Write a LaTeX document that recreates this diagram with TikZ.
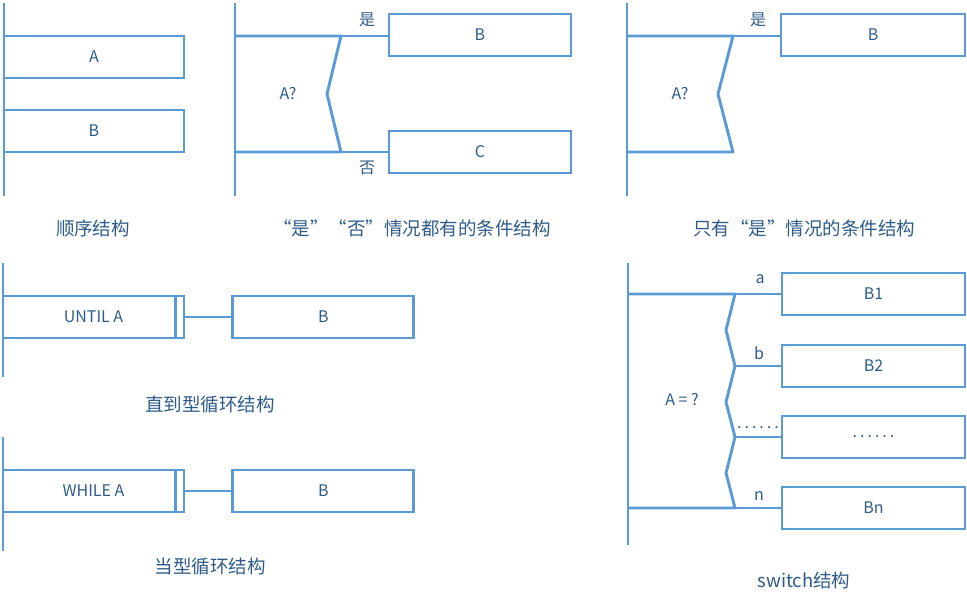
\documentclass[tikz,border=0pt]{standalone}
\usepackage{fontspec}
\setmainfont{Noto Sans CJK SC}
\usetikzlibrary{positioning}
\definecolor{nsline}{HTML}{5B9BD5}
\definecolor{nstext}{HTML}{2E5C8A}

\begin{document}
\begin{tikzpicture}[
  x=1pt, y=-1pt,
  ns/.style={draw=nsline, line width=2.9pt, line join=round},
  box/.style={rectangle, draw=nsline, line width=2.9pt, minimum width=181pt, minimum height=42pt, inner sep=0pt, text=nstext, font=\fontsize{16}{18}\selectfont},
  lbl/.style={text=nstext, font=\fontsize{16}{18}\selectfont, inner sep=0pt},
  caption/.style={text=nstext, font=\fontsize{18.5}{21}\selectfont, inner sep=0pt}
]
\useasboundingbox (0,0) rectangle (967,602);
% sequence
\draw[ns] (4,3) -- (4,196);
\node[box, minimum width=180pt] (seqa) at (94,57) {A};
\node[box, minimum width=180pt] (seqb) at (94,131) {B};
\node[caption] (capseq) at (93,228) {顺序结构};
% if-else
\coordinate (ift) at (341,36);
\coordinate (ifb) at (341,152);
\draw[ns] (235,3) -- (235,196);
\node[box, minimum width=182pt] (ifb2) at (480,35) {B};
\node[box, minimum width=182pt] (ifc) at (480,152) {C};
\draw[ns] (235,36) -- (ift) -- (327,94) -- (ifb) -- (235,152);
\draw[ns] (ift) -- (ift -| ifb2.west);
\draw[ns] (ifb) -- (ifc);
\node[lbl] (ifyes) at (367,20) {是};
\node[lbl] (ifno) at (367,168) {否};
\node[lbl] (ifq) at (288,94) {A?};
\node[caption] (capif) at (412,228) {“是”“否”情况都有的条件结构};
% if only
\coordinate (onlyt) at (733,36);
\draw[ns] (627,3) -- (627,196);
\node[box, minimum width=184pt] (onlyb) at (873,35) {B};
\draw[ns] (627,36) -- (onlyt) -- (718,94) -- (733,152) -- (627,152);
\draw[ns] (onlyt) -- (onlyt -| onlyb.west);
\node[lbl] (onlyyes) at (758,20) {是};
\node[lbl] (onlyq) at (680,94) {A?};
\node[caption] (caponly) at (804,228) {只有“是”情况的条件结构};
% until loop
\draw[ns] (3,263) -- (3,377);
\node[box] (until) at (93.5,317) {UNTIL A};
\draw[ns] ([xshift=-10pt]until.north east) -- ([xshift=-10pt]until.south east);
\node[box, right=46pt of until] (untilb) {B};
\draw[ns] (until) -- (untilb);
\node[caption] (capuntil) at (210,405) {直到型循环结构};
% while loop
\draw[ns] (3,437) -- (3,551);
\node[box] (while) at (93.5,491) {WHILE A};
\draw[ns] ([xshift=-10pt]while.north east) -- ([xshift=-10pt]while.south east);
\node[box, right=46pt of while] (whileb) {B};
\draw[ns] (while) -- (whileb);
\node[caption] (capwhile) at (210,567) {当型循环结构};
% switch
\draw[ns] (628,263) -- (628,545);
\coordinate (sw1) at (735,294);
\coordinate (sw2) at (735,366);
\coordinate (sw3) at (735,437);
\coordinate (sw4) at (735,508);
\node[box, minimum width=183pt] (swb1) at (873.5,294) {B1};
\node[box, minimum width=183pt] (swb2) at (873.5,366) {B2};
\node[box, minimum width=183pt] (swb3) at (873.5,437) {.\kern3pt.\kern3pt.\kern3pt.\kern3pt.\kern3pt.};
\node[box, minimum width=183pt] (swb4) at (873.5,508) {Bn};
\draw[ns] (628,294) -- (sw1) -- (726,330) -- (sw2) -- (726,402) -- (sw3) -- (726,473) -- (sw4) -- (628,508);
\foreach \i in {1,...,4}
  \draw[ns] (sw\i) -- (swb\i);
\node[lbl] (swa) at (760,279) {a};
\node[lbl] (swb) at (759,353) {b};
\node[lbl] (swdots) at (758,428) {.\kern3pt.\kern3pt.\kern3pt.\kern3pt.\kern3pt.};
\node[lbl] (swn) at (759,496) {n};
\node[lbl] (swq) at (682,400) {A = ?};
\node[caption] (capsw) at (804,580) {switch结构};
\end{tikzpicture}
\end{document}
